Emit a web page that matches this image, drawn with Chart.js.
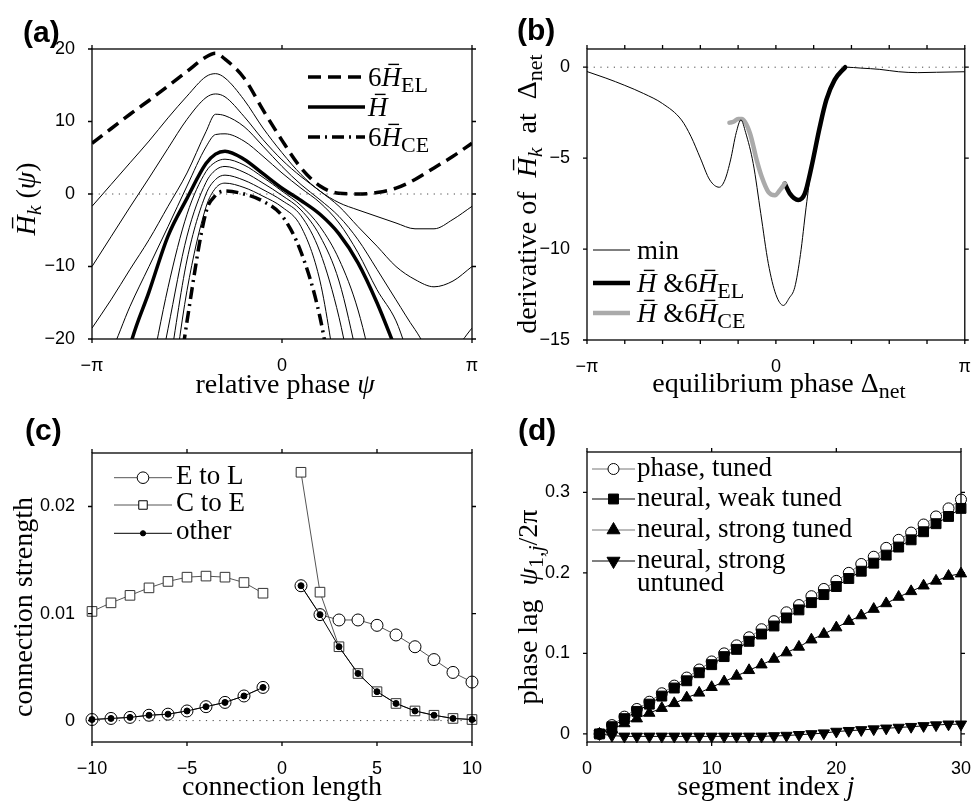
<!DOCTYPE html>
<html>
<head>
<meta charset="utf-8">
<script src="https://cdn.jsdelivr.net/npm/chart.js@4.4.1/dist/chart.umd.min.js"></script>
<style>
  body { margin: 0; background: #fff; }
  #wrap { position: relative; width: 979px; height: 803px; }
  canvas { position: absolute; }
</style>
</head>
<body>
<div id="wrap">
  <canvas id="ca" width="490" height="400" style="left:0;top:0"></canvas>
  <canvas id="cb" width="489" height="400" style="left:490px;top:0"></canvas>
  <canvas id="cc" width="490" height="403" style="left:0;top:400px"></canvas>
  <canvas id="cd" width="489" height="403" style="left:490px;top:400px"></canvas>
</div>
<script>
const SERIF = '"Liberation Serif", "Times New Roman", serif';
const SANS = '"Liberation Sans", Arial, sans-serif';

// ---- (a) relative phase psi, in units of pi ----
const psiA = [-1, -0.9, -0.8, -0.7, -0.6, -0.5, -0.4, -0.35, -0.3, -0.2, -0.1, 0, 0.1, 0.2, 0.3, 0.4, 0.5, 0.6, 0.7, 0.8, 0.9, 1];
const hEL6 = [7.0, 9.0, 11.0, 12.9, 14.9, 16.9, 18.9, 19.4, 18.6, 16.0, 11.6, 7.4, 3.6, 1.1, 0.1, 0.0, 0.2, 0.8, 2.0, 3.6, 5.2, 7.0];
const hThin1 = [-1.7, 1.3, 4.3, 7.3, 10.5, 13.5, 16.2, 16.6, 16.0, 13.0, 9.1, 5.7, 2.7, 0.4, -1.2, -2.2, -3.1, -4.0, -4.8, -4.8, -3.5, -1.7];
const hThin2 = [-10, -5.9, -1.8, 2.2, 6.3, 10.3, 13.3, 13.8, 13.4, 10.7, 7.5, 4.7, 2.4, 0.4, -1.7, -4.5, -7.2, -10, -11.8, -12.8, -12, -10];
const hThin3 = [-18.5, -14.6, -10.4, -6.3, -1.7, 2.9, 8.6, 11.0, 10.8, 9.3, 6.6, 3.8, 1.3, -0.8, -3.1, -6.3, -10.4, -14.6, -18.7, -22, -21.5, -18.5];
const hThin4 = [-26, -21.8, -15.5, -10, -4.5, 1.1, 6.5, 8.2, 8.3, 7.3, 5.2, 2.9, 0.8, -1.2, -4.0, -8.1, -13.2, -17.5, -24.6, -28, -28, -26];
const hBar = [-40, -33, -21, -13.5, -5.8, -0.6, 4.2, 5.5, 5.9, 4.8, 2.8, 0.8, -0.9, -2.8, -5.5, -9.5, -15, -21.5, -28, -34, -38, -40];
const hThin5 = [-60, -50, -40, -26, -12.9, -2.8, 3.1, 4.4, 4.8, 4.0, 2.3, 0.4, -1.6, -4.5, -9, -16, -27, -40, -50, -55, -58, -60];
const hThin6 = [-60, -55, -45, -32, -18.6, -5.8, 1.6, 3.3, 3.8, 3.0, 1.5, -0.2, -2.2, -5.8, -12, -23, -35, -45, -52, -56, -58, -60];
const hThin7 = [-60, -58, -50, -40, -25, -9.1, 0.0, 2.0, 2.6, 1.9, 0.6, -0.9, -3.0, -8, -17, -30, -42, -50, -55, -58, -59, -60];
const hThin8 = [-60, -59, -55, -45, -31, -13.3, -1.8, 0.8, 1.5, 0.9, -0.3, -1.8, -4.5, -12, -27, -40, -50, -55, -58, -59, -60, -60];
const hCE6 = [-60, -59, -57, -50, -36, -17.6, -2.5, -0.2, 0.4, 0.0, -1.0, -3.0, -8, -17, -32, -45, -52, -56, -58, -59, -60, -60];
const aXTicks = [-1, 0, 1];
const aXLabels = ['\u2212\u03c0', '0', '\u03c0'];
const aYTicks = [-20, -10, 0, 10, 20];

// ---- (b) equilibrium phase, in units of pi ----
const bMinX = [-1, -0.9, -0.8, -0.7, -0.6, -0.5, -0.45, -0.4, -0.35, -0.3, -0.27, -0.24, -0.21, -0.185, -0.16, -0.12, -0.08, -0.04, 0, 0.04, 0.07, 0.1, 0.13, 0.16, 0.19, 0.23, 0.27, 0.31, 0.37, 0.45, 0.55, 0.65, 0.75, 0.85, 1];
const bMinY = [-0.24, -0.6, -1.0, -1.45, -2.0, -2.9, -3.8, -5.0, -6.2, -6.6, -6.2, -5.1, -3.6, -2.9, -3.6, -5.3, -8.05, -10.8, -12.5, -13.1, -12.7, -12.1, -10.3, -7.7, -5.4, -3.4, -1.8, -0.7, 0.0, -0.05, -0.12, -0.25, -0.3, -0.28, -0.25];
const bCEX = [-0.246, -0.225, -0.2, -0.18, -0.137, -0.102, -0.076, -0.04, -0.005, 0.021, 0.047];
const bCEY = [-3.05, -3.0, -2.85, -2.85, -3.64, -5.1, -6.0, -6.86, -7.04, -6.76, -6.4];
const bELX = [0.047, 0.074, 0.118, 0.153, 0.188, 0.232, 0.267, 0.311, 0.367];
const bELY = [-6.4, -6.95, -7.3, -6.95, -5.5, -3.3, -1.8, -0.7, 0.0];
const bXMarks = [-1, -0.8, -0.6, -0.4, -0.2, 0, 0.2, 0.4, 0.6, 0.8, 1];
const bXTicks = [-1, 0, 1];
const bXLabels = ['\u2212\u03c0', '0', '\u03c0'];
const bYTicks = [-15, -10, -5, 0];

// ---- (c) connection strength vs length ----
const cLenL = [-10, -9, -8, -7, -6, -5, -4, -3, -2, -1];
const cLenR = [1, 2, 3, 4, 5, 6, 7, 8, 9, 10];
const eToL_L = [0.0001, 0.0002, 0.0003, 0.0005, 0.0006, 0.0009, 0.0013, 0.0017, 0.0023, 0.0031];
const eToL_R = [0.0126, 0.0099, 0.0094, 0.0094, 0.0089, 0.0080, 0.0069, 0.0057, 0.0045, 0.0036];
const cToE_L = [0.0102, 0.0110, 0.0117, 0.0124, 0.0130, 0.0134, 0.0135, 0.0134, 0.0129, 0.0119];
const cToE_R = [0.0232, 0.0120, 0.0069, 0.0044, 0.0027, 0.0016, 0.0009, 0.0005, 0.0002, 0.0001];
const other_L = [0.0001, 0.0002, 0.0003, 0.0005, 0.0006, 0.0009, 0.0013, 0.0017, 0.0023, 0.0031];
const other_R = [0.0126, 0.0099, 0.0069, 0.0044, 0.0027, 0.0016, 0.0009, 0.0005, 0.0002, 0.0001];
const cXTicks = [-10, -5, 0, 5, 10];
const cXLabels = ['\u221210', '\u22125', '0', '5', '10'];
const cYTicks = [0, 0.01, 0.02];
const cYLabels = ['0', '0.01', '0.02'];

// ---- (d) phase lag vs segment ----
const seg = [1, 2, 3, 4, 5, 6, 7, 8, 9, 10, 11, 12, 13, 14, 15, 16, 17, 18, 19, 20, 21, 22, 23, 24, 25, 26, 27, 28, 29, 30];
const dPhase = [0, 0.011, 0.0215, 0.031, 0.040, 0.0505, 0.060, 0.070, 0.080, 0.090, 0.100, 0.110, 0.120, 0.130, 0.140, 0.151, 0.160, 0.171, 0.180, 0.190, 0.200, 0.211, 0.220, 0.231, 0.241, 0.250, 0.260, 0.270, 0.280, 0.291];
const dWeak = [0, 0.009, 0.019, 0.028, 0.037, 0.047, 0.057, 0.066, 0.076, 0.086, 0.096, 0.105, 0.115, 0.124, 0.134, 0.144, 0.154, 0.163, 0.173, 0.183, 0.193, 0.202, 0.212, 0.222, 0.232, 0.241, 0.251, 0.261, 0.270, 0.280];
const dStrong = [0, 0.006, 0.013, 0.019, 0.026, 0.032, 0.038, 0.045, 0.051, 0.058, 0.065, 0.072, 0.079, 0.086, 0.093, 0.101, 0.108, 0.117, 0.124, 0.132, 0.140, 0.147, 0.155, 0.162, 0.170, 0.177, 0.184, 0.190, 0.196, 0.199];
const dUntuned = [0, -0.002, -0.003, -0.003, -0.003, -0.003, -0.003, -0.003, -0.003, -0.003, -0.003, -0.003, -0.003, -0.003, -0.0025, -0.002, -0.001, 0.0, 0.001, 0.003, 0.004, 0.005, 0.006, 0.007, 0.008, 0.009, 0.010, 0.011, 0.012, 0.012];
const dXTicks = [0, 10, 20, 30];
const dXLabels = ['0', '10', '20', '30'];
const dYTicks = [0, 0.1, 0.2, 0.3];
const dYLabels = ['0', '0.1', '0.2', '0.3'];

// ---------- helpers ----------
function pts(xs, ys) { return xs.map((x, i) => ({ x: x, y: ys[i] })); }
function gapped(xl, yl, xr, yr) { return pts(xl, yl).concat([{ x: 0, y: null }], pts(xr, yr)); }
function minusLabels(ticks) { return ticks.map(v => String(v).replace('-', '\u2212')); }

function partFont(p, size) {
  const s = p.sub ? Math.round(size * 0.8) : size;
  return (p.it ? 'italic ' : '') + s + 'px ' + SERIF;
}
function drawRich(ctx, parts, x, y, size, align) {
  let total = 0;
  parts.forEach(p => { ctx.font = partFont(p, size); total += ctx.measureText(p.t).width; });
  let cx = align === 'center' ? x - total / 2 : x;
  ctx.save();
  ctx.fillStyle = '#000';
  ctx.strokeStyle = '#000';
  ctx.textAlign = 'left';
  ctx.textBaseline = 'alphabetic';
  parts.forEach(p => {
    ctx.font = partFont(p, size);
    const w = ctx.measureText(p.t).width;
    ctx.fillText(p.t, cx, p.sub ? y + size * 0.22 : y);
    if (p.bar) {
      ctx.lineWidth = 1.4;
      ctx.beginPath();
      ctx.moveTo(cx + w * 0.35, y - size * 0.8);
      ctx.lineTo(cx + w * 0.9, y - size * 0.8);
      ctx.stroke();
    }
    cx += w;
  });
  ctx.restore();
}

function drawMarker(ctx, m, x, y) {
  ctx.save();
  ctx.fillStyle = m.fill;
  ctx.strokeStyle = m.stroke;
  ctx.lineWidth = 1;
  ctx.beginPath();
  if (m.style === 'circle') {
    ctx.arc(x, y, m.r, 0, Math.PI * 2);
  } else if (m.style === 'rect') {
    const s = m.r * Math.SQRT1_2;
    ctx.rect(x - s, y - s, 2 * s, 2 * s);
  } else {
    let rad = (m.rot || 0) * Math.PI / 180;
    ctx.moveTo(x + Math.sin(rad) * m.r, y - Math.cos(rad) * m.r);
    rad += Math.PI * 2 / 3;
    ctx.lineTo(x + Math.sin(rad) * m.r, y - Math.cos(rad) * m.r);
    rad += Math.PI * 2 / 3;
    ctx.lineTo(x + Math.sin(rad) * m.r, y - Math.cos(rad) * m.r);
  }
  ctx.closePath();
  ctx.fill();
  ctx.stroke();
  ctx.restore();
}

// box, outward tick marks, panel label, titles and legend
function frame(cfg) {
  return {
    id: 'frame',
    afterDraw(chart) {
      const ctx = chart.ctx, a = chart.chartArea;
      const xs = chart.scales.x, ys = chart.scales.y;
      ctx.save();
      ctx.strokeStyle = '#000';
      ctx.lineWidth = 1.3;
      ctx.strokeRect(a.left, a.top, a.right - a.left, a.bottom - a.top);
      ctx.beginPath();
      cfg.xMarks.forEach(v => {
        const p = xs.getPixelForValue(v);
        ctx.moveTo(p, a.bottom); ctx.lineTo(p, a.bottom + 4);
        ctx.moveTo(p, a.top); ctx.lineTo(p, a.top - 4);
      });
      cfg.yMarks.forEach(v => {
        const p = ys.getPixelForValue(v);
        ctx.moveTo(a.left, p); ctx.lineTo(a.left - 4, p);
        ctx.moveTo(a.right, p); ctx.lineTo(a.right + 4, p);
      });
      ctx.stroke();

      ctx.fillStyle = '#000';
      ctx.textAlign = 'left';
      ctx.textBaseline = 'alphabetic';
      ctx.font = 'bold 30px ' + SANS;
      ctx.fillText(cfg.label[0], cfg.label[1], cfg.label[2]);

      drawRich(ctx, cfg.xTitle, cfg.xTitlePos[0], cfg.xTitlePos[1], 28, 'center');
      ctx.save();
      ctx.translate(cfg.yTitlePos[0], cfg.yTitlePos[1]);
      ctx.rotate(-Math.PI / 2);
      drawRich(ctx, cfg.yTitle, 0, 0, 28, 'center');
      ctx.restore();

      cfg.legend.forEach(it => {
        ctx.save();
        ctx.strokeStyle = it.color;
        ctx.lineWidth = it.width;
        ctx.setLineDash(it.dash || []);
        ctx.beginPath();
        ctx.moveTo(cfg.legX[0], it.y);
        ctx.lineTo(cfg.legX[1], it.y);
        ctx.stroke();
        ctx.restore();
        if (it.marker) drawMarker(ctx, it.marker, (cfg.legX[0] + cfg.legX[1]) / 2, it.y);
        drawRich(ctx, it.text, cfg.legX[2], it.y + cfg.legDy, 27, 'left');
        if (it.text2) drawRich(ctx, it.text2, cfg.legX[2], it.y + cfg.legDy + 23, 27, 'left');
      });
      ctx.restore();
    }
  };
}

function axis(min, max, ticks, labels, size, isX) {
  return {
    type: 'linear',
    min: min,
    max: max,
    grid: { display: false },
    border: { display: false },
    afterBuildTicks: s => { s.ticks = ticks.map(v => ({ value: v })); },
    afterFit: s => { if (isX) s.height = size; else s.width = size; },
    ticks: {
      autoSkip: false,
      maxRotation: 0,
      padding: isX ? 8 : 9,
      color: '#000',
      font: { family: SANS, size: 18 },
      callback: (v, i) => labels[i]
    }
  };
}

function baseOptions(pad, xAxis, yAxis) {
  return {
    responsive: false,
    animation: false,
    events: [],
    layout: { autoPadding: false, padding: pad },
    plugins: { legend: { display: false }, tooltip: { enabled: false } },
    elements: { point: { radius: 0 } },
    scales: { x: xAxis, y: yAxis }
  };
}

function curve(ys, width, dash) {
  return {
    data: pts(psiA, ys),
    borderColor: '#000',
    borderWidth: width,
    borderDash: dash || [],
    cubicInterpolationMode: 'monotone',
    pointRadius: 0
  };
}

function zeroLine(x0, x1) {
  return { data: pts([x0, x1], [0, 0]), borderColor: '#333', borderWidth: 0.9, borderDash: [1.2, 5.5], pointRadius: 0 };
}

const H = () => ({ t: 'H', it: true, bar: true });

// ---------- (a) ----------
new Chart(document.getElementById('ca'), {
  type: 'line',
  data: {
    datasets: [
      zeroLine(-1, 1),
      curve(hThin1, 1), curve(hThin2, 1), curve(hThin3, 1), curve(hThin4, 1),
      curve(hThin5, 1), curve(hThin6, 1), curve(hThin7, 1), curve(hThin8, 1),
      curve(hBar, 3.5),
      curve(hEL6, 3.5, [13, 7]),
      curve(hCE6, 3.5, [12, 5, 2, 5])
    ]
  },
  options: baseOptions({ top: 49, right: 18, left: 0, bottom: 0 },
    axis(-1, 1, aXTicks, aXLabels, 61, true),
    axis(-20, 20, aYTicks, minusLabels(aYTicks), 92, false)),
  plugins: [frame({
    xMarks: aXTicks, yMarks: aYTicks,
    label: ['(a)', 23, 42],
    xTitle: [{ t: 'relative phase ' }, { t: '\u03c8', it: true }],
    xTitlePos: [285, 393],
    yTitle: [H(), { t: 'k', it: true, sub: true }, { t: ' (' }, { t: '\u03c8', it: true }, { t: ')' }],
    yTitlePos: [35, 199],
    legX: [308, 365, 368],
    legDy: 9,
    legend: [
      { y: 77, color: '#000', width: 3.5, dash: [13, 7], text: [{ t: '6' }, H(), { t: 'EL', sub: true }] },
      { y: 107, color: '#000', width: 3.5, text: [H()] },
      { y: 137, color: '#000', width: 3.5, dash: [12, 5, 2, 5], text: [{ t: '6' }, H(), { t: 'CE', sub: true }] }
    ]
  })]
});

// ---------- (b) ----------
new Chart(document.getElementById('cb'), {
  type: 'line',
  data: {
    datasets: [
      zeroLine(-1, 1),
      { data: pts(bMinX, bMinY), borderColor: '#000', borderWidth: 1, cubicInterpolationMode: 'monotone', pointRadius: 0 },
      { data: pts(bCEX, bCEY), borderColor: '#aaaaaa', borderWidth: 4.5, cubicInterpolationMode: 'monotone', pointRadius: 0, borderCapStyle: 'round' },
      { data: pts(bELX, bELY), borderColor: '#000', borderWidth: 4.5, cubicInterpolationMode: 'monotone', pointRadius: 0, borderCapStyle: 'round' }
    ]
  },
  options: baseOptions({ top: 49, right: 12, left: 0, bottom: 0 },
    axis(-1, 1, bXTicks, bXLabels, 60, true),
    axis(-15, 1, bYTicks, minusLabels(bYTicks), 97, false)),
  plugins: [frame({
    xMarks: bXMarks, yMarks: bYTicks,
    label: ['(b)', 27, 40],
    xTitle: [{ t: 'equilibrium phase \u0394' }, { t: 'net', sub: true }],
    xTitlePos: [289, 392],
    yTitle: [{ t: 'derivative of  ' }, H(), { t: 'k', it: true, sub: true }, { t: '  at  \u0394' }, { t: 'net', sub: true }],
    yTitlePos: [46, 194],
    legX: [103, 140, 147],
    legDy: 9,
    legend: [
      { y: 250, color: '#000', width: 1, text: [{ t: 'min' }] },
      { y: 283, color: '#000', width: 4.5, text: [H(), { t: ' &6' }, H(), { t: 'EL', sub: true }] },
      { y: 313, color: '#aaaaaa', width: 4.5, text: [H(), { t: ' &6' }, H(), { t: 'CE', sub: true }] }
    ]
  })]
});

// ---------- (c) ----------
new Chart(document.getElementById('cc'), {
  type: 'line',
  data: {
    datasets: [
      { data: gapped(cLenL, other_L, cLenR, other_R), borderColor: '#000', borderWidth: 1, pointStyle: 'circle', pointRadius: 3, pointBackgroundColor: '#000', pointBorderColor: '#000', clip: false, order: 0 },
      { data: gapped(cLenL, eToL_L, cLenR, eToL_R), borderColor: '#555', borderWidth: 1, pointStyle: 'circle', pointRadius: 6, pointBackgroundColor: '#fff', pointBorderColor: '#000', pointBorderWidth: 1, clip: false, order: 1 },
      { data: gapped(cLenL, cToE_L, cLenR, cToE_R), borderColor: '#555', borderWidth: 1, pointStyle: 'rect', pointRadius: 6.8, pointBackgroundColor: '#fff', pointBorderColor: '#333', pointBorderWidth: 1, clip: false, order: 2 },
      Object.assign(zeroLine(-10, 10), { order: 3 })
    ]
  },
  options: baseOptions({ top: 53, right: 18, left: 0, bottom: 0 },
    axis(-10, 10, cXTicks, cXLabels, 61, true),
    axis(-0.002, 0.025, cYTicks, cYLabels, 92, false)),
  plugins: [frame({
    xMarks: cXTicks, yMarks: cYTicks,
    label: ['(c)', 25, 40],
    xTitle: [{ t: 'connection length' }],
    xTitlePos: [282, 395],
    yTitle: [{ t: 'connection strength' }],
    yTitlePos: [32, 207],
    legX: [114, 172, 176],
    legDy: 6,
    legend: [
      { y: 77.7, color: '#555', width: 1, marker: { style: 'circle', r: 5.8, fill: '#fff', stroke: '#000' }, text: [{ t: 'E to L' }] },
      { y: 105, color: '#555', width: 1, marker: { style: 'rect', r: 6, fill: '#fff', stroke: '#000' }, text: [{ t: 'C to E' }] },
      { y: 133.3, color: '#000', width: 1, marker: { style: 'circle', r: 2.6, fill: '#000', stroke: '#000' }, text: [{ t: 'other' }] }
    ]
  })]
});

// ---------- (d) ----------
new Chart(document.getElementById('cd'), {
  type: 'line',
  data: {
    datasets: [
      { data: pts(seg, dUntuned), borderColor: '#000', borderWidth: 1, pointStyle: 'triangle', pointRotation: 180, pointRadius: 6.5, pointBackgroundColor: '#000', pointBorderColor: '#000', clip: false, order: 0 },
      { data: pts(seg, dStrong), borderColor: '#000', borderWidth: 1, pointStyle: 'triangle', pointRadius: 6.5, pointBackgroundColor: '#000', pointBorderColor: '#000', clip: false, order: 1 },
      { data: pts(seg, dWeak), borderColor: '#000', borderWidth: 1, pointStyle: 'rect', pointRadius: 7, pointBackgroundColor: '#000', pointBorderColor: '#000', clip: false, order: 2 },
      { data: pts(seg, dPhase), borderColor: '#777', borderWidth: 1, pointStyle: 'circle', pointRadius: 5.5, pointBackgroundColor: '#fff', pointBorderColor: '#000', pointBorderWidth: 1, clip: false, order: 3 }
    ]
  },
  options: baseOptions({ top: 52, right: 13, left: 0, bottom: 0 },
    axis(0, 30, dXTicks, dXLabels, 61, true),
    axis(-0.01, 0.35, dYTicks, dYLabels, 97, false)),
  plugins: [frame({
    xMarks: dXTicks, yMarks: dYTicks,
    label: ['(d)', 28, 40],
    xTitle: [{ t: 'segment index ' }, { t: 'j', it: true }],
    xTitlePos: [276, 395],
    yTitle: [{ t: 'phase lag  ' }, { t: '\u03c8', it: true }, { t: '1,', sub: true }, { t: 'j', it: true, sub: true }, { t: '/2\u03c0' }],
    yTitlePos: [47, 207],
    legX: [102, 145, 147],
    legDy: 6.5,
    legend: [
      { y: 69, color: '#777', width: 1, marker: { style: 'circle', r: 5.5, fill: '#fff', stroke: '#000' }, text: [{ t: 'phase, tuned' }] },
      { y: 99, color: '#000', width: 1, marker: { style: 'rect', r: 7, fill: '#000', stroke: '#000' }, text: [{ t: 'neural, weak tuned' }] },
      { y: 130, color: '#777', width: 1, marker: { style: 'triangle', r: 7.5, fill: '#000', stroke: '#000' }, text: [{ t: 'neural, strong tuned' }] },
      { y: 161, color: '#000', width: 1, marker: { style: 'triangle', r: 7.5, rot: 180, fill: '#000', stroke: '#000' }, text: [{ t: 'neural, strong' }], text2: [{ t: 'untuned' }] }
    ]
  })]
});
</script>
</body>
</html>
